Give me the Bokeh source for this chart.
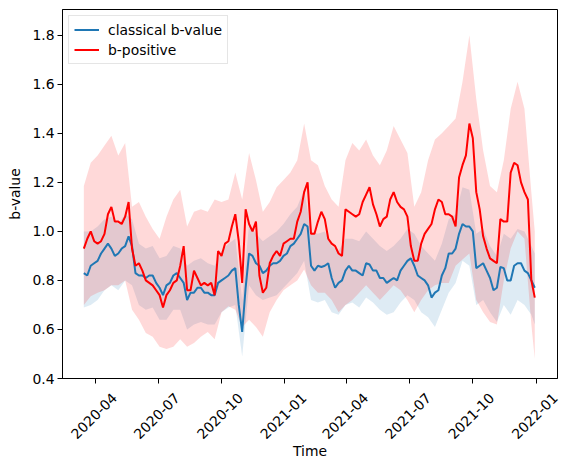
import pandas as pd
from math import pi
from bokeh.plotting import figure
from bokeh.models import (Range1d, FixedTicker, Legend, LegendItem, DatetimeAxis,
                          DatetimeTickFormatter, PrintfTickFormatter, CustomJSTickFormatter)
from bokeh.embed import file_html
from bokeh.resources import INLINE

# ---- data ----
line_dates = pd.date_range("2020-03-15", periods=132, freq="5D")
band_dates = line_dates[::2].append(line_dates[-1:])

b_positive = [
    0.93, 0.97, 1.00, 0.96, 0.95, 0.96, 0.99, 1.07, 1.10, 1.04,
    1.04, 1.03, 1.06, 1.12, 0.93, 0.86, 0.87, 0.84, 0.80, 0.79,
    0.78, 0.76, 0.74, 0.69, 0.74, 0.76, 0.79, 0.80, 0.86, 0.94,
    0.76, 0.76, 0.84, 0.81, 0.78, 0.79, 0.78, 0.79, 0.74, 0.92,
    0.90, 0.95, 0.96, 1.02, 1.07, 0.96, 0.79, 1.09, 1.03, 1.00,
    1.04, 0.82, 0.75, 0.77, 0.87, 0.90, 0.92, 0.90, 0.95, 0.96,
    0.97, 0.97, 1.04, 1.08, 1.16, 1.20, 0.99, 0.99, 1.04, 1.08,
    1.05, 0.97, 0.95, 0.94, 0.91, 0.90, 1.09, 1.08, 1.07, 1.06,
    1.07, 1.12, 1.15, 1.18, 1.11, 1.07, 1.02, 1.05, 1.06, 1.13,
    1.16, 1.12, 1.10, 1.09, 1.06, 0.94, 0.88, 0.88, 0.95, 0.99,
    1.01, 1.03, 1.09, 1.13, 1.12, 1.07, 1.07, 1.06, 1.02, 1.22,
    1.27, 1.31, 1.44, 1.38, 1.16, 1.09, 0.98, 0.93, 0.89, 0.88,
    0.87, 1.05, 1.04, 1.04, 1.24, 1.28, 1.27, 1.20, 1.16, 1.13,
    0.80, 0.73,
]
classical = [
    0.83, 0.82, 0.86, 0.87, 0.88, 0.91, 0.93, 0.95, 0.93, 0.90,
    0.91, 0.93, 0.94, 0.98, 0.94, 0.83, 0.82, 0.82, 0.81, 0.82,
    0.82, 0.79, 0.77, 0.74, 0.78, 0.79, 0.82, 0.83, 0.81, 0.79,
    0.72, 0.75, 0.75, 0.77, 0.77, 0.75, 0.75, 0.74, 0.74, 0.79,
    0.80, 0.81, 0.82, 0.84, 0.85, 0.70, 0.59, 0.77, 0.91, 0.90,
    0.87, 0.86, 0.83, 0.84, 0.86, 0.87, 0.87, 0.88, 0.90, 0.91,
    0.94, 0.95, 0.97, 0.99, 1.03, 1.02, 0.86, 0.84, 0.86, 0.855,
    0.86, 0.87, 0.81, 0.77, 0.79, 0.80, 0.84, 0.86, 0.84, 0.84,
    0.83, 0.82, 0.87, 0.865, 0.84, 0.84, 0.81, 0.81, 0.79, 0.80,
    0.81, 0.80, 0.84, 0.86, 0.88, 0.89, 0.86, 0.82, 0.81, 0.80,
    0.78, 0.73, 0.75, 0.76, 0.82, 0.85, 0.91, 0.91, 0.93, 0.99,
    1.03, 1.02, 1.02, 1.00, 0.85, 0.86, 0.87, 0.84, 0.81, 0.76,
    0.77, 0.855, 0.85, 0.80, 0.80, 0.86, 0.87, 0.87, 0.84, 0.83,
    0.80, 0.77,
]
bpos_upper = [
    1.185, 1.28, 1.31, 1.35, 1.39, 1.31, 1.36, 1.10, 1.12, 1.06,
    1.01, 0.97, 1.06, 1.13, 1.17, 1.02, 1.08, 1.09, 1.08, 1.13,
    1.12, 1.13, 1.24, 1.13, 1.32, 1.21, 1.08, 1.12, 1.18, 1.21,
    1.24, 1.29, 1.44, 1.29, 1.27, 1.185, 1.13, 1.10, 1.29, 1.36,
    1.33, 1.375, 1.31, 1.27, 1.33, 1.43, 1.375, 1.32, 1.10, 1.16,
    1.29, 1.375, 1.40, 1.43, 1.46, 1.61, 1.80, 1.54, 1.33, 1.185,
    1.16, 1.29, 1.50, 1.61, 1.50, 1.16, 1.00,
]
bpos_lower = [
    0.70, 0.735, 0.75, 0.76, 0.78, 0.78, 0.80, 0.68, 0.64, 0.586,
    0.57, 0.53, 0.52, 0.53, 0.56, 0.53, 0.545, 0.57, 0.59, 0.56,
    0.67, 0.695, 0.68, 0.61, 0.64, 0.61, 0.57, 0.67, 0.72, 0.76,
    0.78, 0.80, 0.845, 0.78, 0.75, 0.75, 0.72, 0.67, 0.70, 0.72,
    0.75, 0.78, 0.75, 0.72, 0.75, 0.78, 0.76, 0.72, 0.67, 0.72,
    0.76, 0.78, 0.79, 0.79, 0.86, 0.885, 0.91, 0.72, 0.67, 0.63,
    0.62, 0.80, 0.93, 1.00, 0.97, 0.62, 0.48,
]
classical_upper = [
    1.00, 1.00, 1.02, 1.05, 1.06, 1.03, 1.07, 1.05, 0.95, 0.93,
    0.94, 0.89, 0.90, 0.94, 0.93, 0.86, 0.88, 0.89, 0.87, 0.86,
    0.92, 0.95, 0.97, 0.72, 1.03, 0.99, 0.96, 0.98, 1.00, 1.03,
    1.07, 1.10, 1.17, 1.00, 0.99, 1.00, 0.94, 0.92, 0.97, 0.97,
    0.96, 1.00, 0.97, 0.94, 0.92, 0.94, 0.97, 1.01, 0.99, 0.94,
    0.91, 0.88, 0.95, 1.05, 1.07, 1.18, 1.17, 0.99, 1.01, 0.94,
    0.90, 0.99, 0.97, 1.01, 1.00, 0.94, 0.91,
]
classical_lower = [
    0.69, 0.70, 0.72, 0.76, 0.78, 0.76, 0.80, 0.78, 0.70, 0.68,
    0.69, 0.64, 0.64, 0.68, 0.68, 0.60, 0.62, 0.63, 0.62, 0.62,
    0.67, 0.69, 0.70, 0.49, 0.78, 0.74, 0.72, 0.73, 0.74, 0.77,
    0.80, 0.83, 0.88, 0.72, 0.71, 0.72, 0.67, 0.66, 0.70, 0.71,
    0.69, 0.73, 0.71, 0.68, 0.66, 0.67, 0.71, 0.74, 0.72, 0.67,
    0.65, 0.61, 0.68, 0.75, 0.79, 0.88, 0.86, 0.70, 0.72, 0.67,
    0.63, 0.70, 0.66, 0.72, 0.70, 0.66, 0.62,
]

x_tick_dates = ["2020-04-01", "2020-07-01", "2020-10-01", "2021-01-01",
                "2021-04-01", "2021-07-01", "2021-10-01", "2022-01-01"]
y_ticks = [0.4, 0.6, 0.8, 1.0, 1.2, 1.4, 1.6, 1.8]

FONT = "DejaVu Sans"
FS = "13.9px"
BLUE = "#1f77b4"
RED = "#ff0000"

W, H = 563, 461
LEFT, RIGHT, TOP, BOTTOM = 62, 6, 9, 82

x_start = pd.Timestamp("2020-02-13").value / 1e6
x_end = pd.Timestamp("2022-02-01").value / 1e6
ms_per_px = (x_end - x_start) / (W - LEFT - RIGHT)
label_shift = 19 * ms_per_px   # centres the rotated date labels under their ticks

p = figure(width=W, height=H, x_axis_type="datetime",
           x_range=Range1d(x_start, x_end), y_range=Range1d(0.4, 1.905),
           output_backend="svg", toolbar_location=None,
           min_border_left=LEFT, min_border_right=RIGHT, min_border_top=TOP,
           min_border_bottom=BOTTOM,
           background_fill_color="white", border_fill_color="white")

p.xgrid.visible = False
p.ygrid.visible = False
p.outline_line_color = "black"
p.outline_line_alpha = 1.0
p.outline_line_width = 1

p.varea(x=band_dates, y1=classical_lower, y2=classical_upper, fill_color=BLUE, fill_alpha=0.15)
p.varea(x=band_dates, y1=bpos_lower, y2=bpos_upper, fill_color=RED, fill_alpha=0.15)
r_blue = p.line(x=line_dates, y=classical, line_color=BLUE, line_width=2)
r_red = p.line(x=line_dates, y=b_positive, line_color=RED, line_width=2)

tick_ms = [pd.Timestamp(t).value / 1e6 for t in x_tick_dates]

# main x axis: only the tick marks
xax = p.xaxis[0]
xax.ticker = FixedTicker(ticks=tick_ms)
xax.formatter = CustomJSTickFormatter(code="return '';")
xax.major_label_text_font_size = "0px"
xax.major_label_standoff = 0

# second x axis below: the rotated date labels and the title
p.extra_x_ranges = {"labels": Range1d(x_start - label_shift, x_end - label_shift)}
lab_ax = DatetimeAxis(x_range_name="labels", ticker=FixedTicker(ticks=tick_ms),
                      formatter=DatetimeTickFormatter(months="%Y-%m", days="%Y-%m",
                                                      years="%Y-%m"))
lab_ax.major_label_orientation = pi / 4
lab_ax.axis_line_color = None
lab_ax.major_tick_line_color = None
lab_ax.minor_tick_line_color = None
lab_ax.major_tick_out = 0
lab_ax.major_tick_in = 0
lab_ax.minor_tick_out = 0
lab_ax.minor_tick_in = 0
lab_ax.major_label_standoff = 12
lab_ax.major_label_text_font = FONT
lab_ax.major_label_text_font_size = FS
lab_ax.major_label_text_color = "black"
lab_ax.axis_label = "Time"
lab_ax.axis_label_text_font = FONT
lab_ax.axis_label_text_font_size = FS
lab_ax.axis_label_text_font_style = "normal"
lab_ax.axis_label_text_color = "black"
lab_ax.axis_label_standoff = -4
p.add_layout(lab_ax, "below")

p.yaxis.ticker = FixedTicker(ticks=y_ticks)
p.yaxis.formatter = PrintfTickFormatter(format="%.1f")

for ax in (xax, p.yaxis[0]):
    ax.axis_line_color = "black"
    ax.major_tick_line_color = "black"
    ax.major_tick_out = 5
    ax.major_tick_in = 0
    ax.minor_tick_out = 0
    ax.minor_tick_in = 0

yax = p.yaxis[0]
yax.major_label_text_font = FONT
yax.major_label_text_font_size = FS
yax.major_label_text_color = "black"
yax.major_label_standoff = 3
yax.axis_label = "b-value"
yax.axis_label_text_font = FONT
yax.axis_label_text_font_size = FS
yax.axis_label_text_font_style = "normal"
yax.axis_label_text_color = "black"
yax.axis_label_standoff = 6

legend = Legend(items=[LegendItem(label="classical b-value", renderers=[r_blue]),
                       LegendItem(label="b-positive", renderers=[r_red])],
                location="top_left")
legend.border_line_color = "#cccccc"
legend.border_line_width = 1
legend.background_fill_alpha = 0.8
legend.label_text_font = FONT
legend.label_text_font_size = FS
legend.label_text_color = "black"
legend.glyph_width = 25
legend.glyph_height = 17
legend.label_height = 17
legend.label_standoff = 9
legend.spacing = 3
legend.padding = 5
legend.margin = 6
p.add_layout(legend)

open("out.html", "w").write(file_html(p, INLINE))
